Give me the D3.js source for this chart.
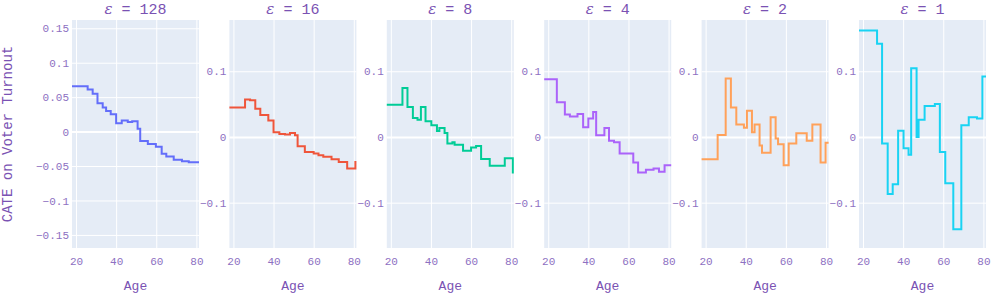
<!DOCTYPE html>
<html>
<head>
<meta charset="utf-8">
<script src="https://cdn.jsdelivr.net/npm/d3@7"></script>
<style>
  body { margin: 0; background: #fff; }
  text { font-family: "Liberation Mono", "Courier New", monospace; fill: #7a52b3; }
</style>
</head>
<body>
<script>
const svgWidth = 1000;
const svgHeight = 300;

// privacy budgets, one panel each
const epsilons = ["128", "16", "8", "4", "2", "1"];
const colors = ["#636efa", "#EF553B", "#00cc96", "#ab63fa", "#FFA15A", "#19d3f3"];
const xTicks = [20, 40, 60, 80];
const yTicksFirst = [0.15, 0.1, 0.05, 0, -0.05, -0.1, -0.15];
const yTicksRest = [0.1, 0, -0.1];

// step edges (age) and CATE value on each step
const edges128 = [18, 25.8, 28.3, 30.7, 33.3, 35, 37.3, 40, 42.8, 45.8, 48, 50.7, 52, 55.8, 59.8, 62.7, 65, 68.7, 72.8, 76.2, 81.3];
const cate128 = [0.066, 0.061, 0.055, 0.041, 0.035, 0.030, 0.025, 0.012, 0.016, 0.014, 0.015, 0.004, -0.0135, -0.018, -0.022, -0.032, -0.036, -0.041, -0.043, -0.0445];
const edges16 = [18, 25.8, 28.3, 30.9, 33.4, 37.4, 40, 42.9, 45.7, 48.2, 50.7, 52, 55.6, 60, 62.4, 64.8, 68.9, 72.5, 76.7, 80.8, 81.3];
const cate16 = [0.0447, 0.057, 0.056, 0.043, 0.0335, 0.025, 0.007, 0.0046, 0.0036, 0.006, 0.0025, -0.014, -0.023, -0.025, -0.028, -0.030, -0.034, -0.038, -0.048, -0.038];
const edges8 = [18, 25.8, 28.3, 31, 33.3, 35, 37.3, 40.2, 43, 44.2, 46.8, 48.2, 50.7, 51.8, 56, 60, 62.5, 65, 69.3, 76.8, 80.8, 81.3];
const cate8 = [0.049, 0.0746, 0.0457, 0.029, 0.026, 0.0457, 0.024, 0.018, 0.009, 0.0137, 0.006, -0.010, -0.008, -0.0117, -0.021, -0.016, -0.0137, -0.0335, -0.0437, -0.0325, -0.054];
const edges4 = [18, 24.3, 28.3, 30.8, 34.6, 37.4, 40, 42.4, 43.9, 48, 50.3, 52.8, 55.6, 62.4, 64.8, 68.7, 72.5, 75.2, 78, 81.3];
const cate4 = [0.088, 0.053, 0.034, 0.031, 0.035, 0.0147, 0.028, 0.038, 0.0025, 0.0137, -0.0056, -0.008, -0.025, -0.039, -0.054, -0.050, -0.048, -0.053, -0.043];
const edges2 = [18, 26, 30, 32.6, 35.3, 39.1, 40.6, 43.1, 44.4, 46.9, 48.1, 52.4, 54.9, 56.1, 58.9, 61.4, 65.2, 70.4, 73.2, 77.3, 79.8, 81.3];
const cate2 = [-0.034, 0.003, 0.089, 0.0447, 0.019, 0.014, 0.040, 0.007, 0.019, -0.013, -0.024, 0.030, -0.0025, -0.011, -0.043, -0.010, 0.0056, -0.0056, 0.019, -0.039, -0.009];
const edges1 = [18, 27, 29.5, 32.3, 34.8, 37.5, 40.2, 42.7, 44, 46.7, 47.7, 50.7, 55.8, 58.3, 61, 65, 69, 72.7, 76.8, 79.5, 81.3];
const cate1 = [0.162, 0.142, -0.010, -0.087, -0.072, 0.0096, -0.017, -0.027, 0.1046, 0, 0.026, 0.047, 0.050, -0.023, -0.0706, -0.1406, 0.018, 0.030, 0.028, 0.092];

const allEdges = [edges128, edges16, edges8, edges4, edges2, edges1];
const allCate = [cate128, cate16, cate8, cate4, cate2, cate1];

const offsetx = 72;
const offsety = 20;
const panelWidth = 127;
const panelStep = 157.4;
const panelHeight = 228;
const tickColor = "#8d70c2";

const svg = d3.select("body").append("svg")
            .attr("width", svgWidth)
            .attr("height", svgHeight);

const xScale = d3.scaleLinear().domain([18, 81.3]).range([0, panelWidth]);
const yFirst = d3.scaleLinear().domain([-0.169, 0.162]).range([panelHeight, 0]);
const yRest = d3.scaleLinear().domain([-0.169, 0.178]).range([panelHeight, 0]);

function fmt(v) {
  return d3.format("~g")(v).replace("-", "\u2212");
}

for (let i = 0; i < epsilons.length; i++) {
  drawPanel(i);
}

// y axis title
svg.append("text")
   .attr("transform", "translate(12," + (offsety + panelHeight/2) + ") rotate(-90)")
   .attr("text-anchor", "middle")
   .style("font-size", "14px")
   .text("CATE on Voter Turnout");

function drawPanel(i) {
  let yScale = i == 0 ? yFirst : yRest;
  let yTicks = i == 0 ? yTicksFirst : yTicksRest;
  let g = svg.append("g")
             .attr("transform", "translate(" + (offsetx + i*panelStep) + "," + offsety + ")");

  g.append("rect")
   .attr("width", panelWidth)
   .attr("height", panelHeight)
   .attr("fill", "#E5ECF6");

  let x_axis = d3.axisBottom(xScale).tickValues(xTicks).tickSize(-panelHeight).tickPadding(9);
  let gx = g.append("g")
            .attr("transform", "translate(0," + panelHeight + ")")
            .call(x_axis);
  gx.select(".domain").remove();
  gx.selectAll("line").attr("stroke", "#fff").attr("stroke-width", 1);
  gx.selectAll("text").style("font-size", "11px").style("fill", tickColor);

  let y_axis = d3.axisLeft(yScale).tickValues(yTicks).tickSize(-panelWidth).tickPadding(3).tickFormat(fmt);
  let gy = g.append("g").call(y_axis);
  gy.select(".domain").remove();
  gy.selectAll("line")
    .attr("stroke", "#fff")
    .attr("stroke-width", d => d == 0 ? 2 : 1);
  gy.selectAll("text").style("font-size", "11px").style("fill", tickColor);

  // step line: each value holds from its edge to the next one
  let edges = allEdges[i];
  let vals = allCate[i];
  let pts = edges.map((e, k) => [e, vals[Math.min(k, vals.length - 1)]]);
  let line = d3.line()
               .curve(d3.curveStepAfter)
               .x(d => xScale(d[0]))
               .y(d => yScale(d[1]));
  g.append("path")
   .attr("d", line(pts))
   .attr("fill", "none")
   .attr("stroke", colors[i])
   .attr("stroke-width", 2);

  let title = g.append("text")
               .attr("x", panelWidth/2)
               .attr("y", -6.5)
               .attr("text-anchor", "middle")
               .style("font-size", "15px");
  title.append("tspan")
       .style("font-family", "'DejaVu Serif', serif")
       .style("font-style", "italic")
       .text("\u03b5");
  title.append("tspan").text(" = " + epsilons[i]);

  g.append("text")
   .attr("x", panelWidth/2)
   .attr("y", 270)
   .attr("text-anchor", "middle")
   .style("font-size", "13px")
   .text("Age");
}
</script>
</body>
</html>
